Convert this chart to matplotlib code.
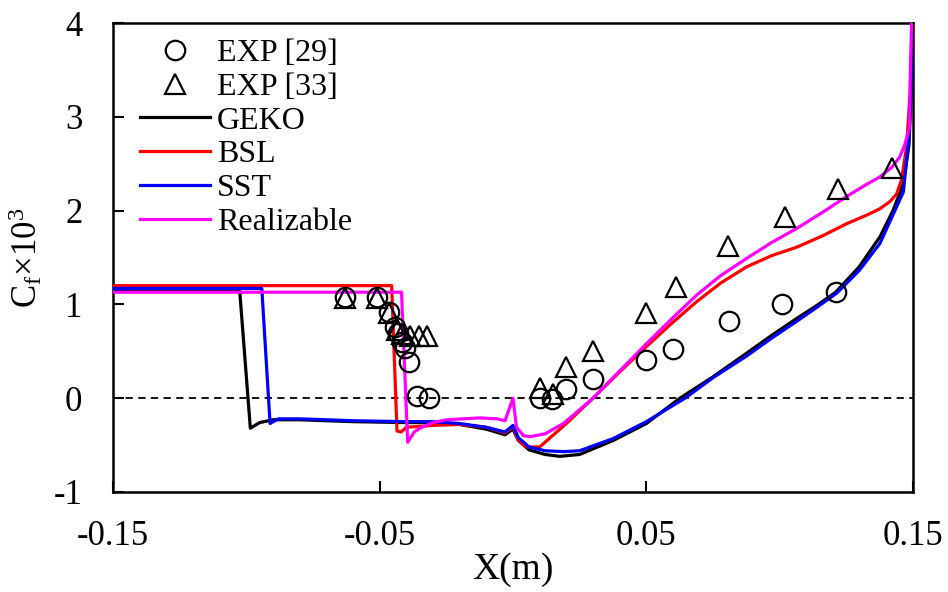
import matplotlib
matplotlib.use("Agg")
import matplotlib.pyplot as plt

plt.rcParams['font.family'] = ['Liberation Serif', 'DejaVu Serif']
plt.rcParams['mathtext.fontset'] = 'custom'
plt.rcParams['mathtext.rm'] = 'Liberation Serif'
plt.rcParams['mathtext.it'] = 'Liberation Serif:italic'
plt.rcParams['axes.unicode_minus'] = False

# experimental data
exp29_x = [-0.063, -0.0511, -0.0464, -0.0443, -0.043, -0.0418, -0.0405, -0.0389, -0.0361, -0.0315,
           0.0101, 0.0145, 0.020, 0.030, 0.050, 0.060, 0.081, 0.1008, 0.121]
exp29_y = [1.08, 1.08, 0.92, 0.76, 0.69, 0.60, 0.53, 0.39, 0.02, 0.0,
           0.0, -0.01, 0.10, 0.21, 0.41, 0.52, 0.82, 1.00, 1.13]
exp33_x = [-0.063, -0.0511, -0.0464, -0.0436, -0.0418, -0.0386, -0.0351, -0.0324,
           0.010, 0.015, 0.020, 0.030, 0.050, 0.061, 0.0807, 0.102, 0.122, 0.142]
exp33_y = [1.07, 1.07, 0.91, 0.73, 0.68, 0.66, 0.66, 0.66,
           0.11, 0.04, 0.33, 0.50, 0.91, 1.19, 1.62, 1.93, 2.23, 2.45]

# simulations
geko_x = [-0.15, -0.1025, -0.0985, -0.095, -0.09, -0.08, -0.06, -0.04, -0.03, -0.02, -0.01, -0.003,
          0.0, 0.002, 0.006, 0.012, 0.0176, 0.025, 0.0376, 0.050, 0.0626, 0.0751, 0.0876, 0.097,
          0.1064, 0.114, 0.121, 0.1298, 0.1376, 0.1425, 0.1464, 0.1485, 0.1495, 0.150]
geko_y = [1.15, 1.15, -0.32, -0.26, -0.23, -0.23, -0.25, -0.26, -0.26, -0.28, -0.33, -0.39,
          -0.33, -0.45, -0.55, -0.60, -0.62, -0.60, -0.45, -0.27, 0.0, 0.23, 0.48, 0.67,
          0.85, 0.99, 1.13, 1.40, 1.72, 2.0, 2.29, 2.7, 3.4, 4.0]

bsl_x = [-0.15, -0.0455, -0.0435, -0.042, -0.040, -0.035, -0.03, -0.02, -0.01, -0.003,
         0.0, 0.002, 0.005, 0.010, 0.020, 0.030, 0.040, 0.050, 0.060, 0.0689, 0.078, 0.0876,
         0.097, 0.1064, 0.116, 0.1251, 0.1325, 0.1376, 0.1415, 0.1439, 0.1457, 0.1476, 0.149, 0.1497]
bsl_y = [1.2, 1.2, -0.35, -0.36, -0.31, -0.30, -0.29, -0.28, -0.31, -0.37,
         -0.30, -0.45, -0.52, -0.52, -0.27, 0.0, 0.28, 0.55, 0.81, 1.03, 1.23, 1.40,
         1.52, 1.61, 1.73, 1.86, 1.95, 2.02, 2.10, 2.18, 2.33, 2.68, 3.3, 4.0]

sst_x = [-0.15, -0.0942, -0.0911, -0.088, -0.08, -0.06, -0.04, -0.03, -0.02, -0.01, -0.003,
         0.0, 0.002, 0.006, 0.012, 0.019, 0.025, 0.0376, 0.050, 0.0645, 0.0751, 0.0876, 0.097,
         0.1064, 0.114, 0.1214, 0.1298, 0.1376, 0.1464, 0.1485, 0.1495, 0.150]
sst_y = [1.17, 1.17, -0.27, -0.22, -0.22, -0.24, -0.25, -0.25, -0.27, -0.31, -0.36,
         -0.29, -0.42, -0.52, -0.56, -0.57, -0.56, -0.43, -0.25, 0.0, 0.22, 0.45, 0.64,
         0.82, 0.97, 1.12, 1.36, 1.65, 2.2, 2.8, 3.53, 4.0]

real_x = [-0.15, -0.0418, -0.0395, -0.037, -0.0349, -0.03, -0.0249, -0.0124, -0.006, -0.003,
          0.0, 0.0013, 0.004, 0.0064, 0.012, 0.0189, 0.030, 0.040, 0.050, 0.060, 0.0689, 0.078,
          0.0876, 0.097, 0.1064, 0.116, 0.1251, 0.132, 0.1376, 0.142, 0.145, 0.147, 0.1487,
          0.149, 0.1495]
real_y = [1.13, 1.13, -0.47, -0.36, -0.32, -0.26, -0.23, -0.21, -0.22, -0.24,
          0.0, -0.31, -0.40, -0.41, -0.38, -0.27, 0.0, 0.29, 0.58, 0.86, 1.10, 1.31,
          1.49, 1.66, 1.81, 1.98, 2.15, 2.27, 2.36, 2.46, 2.57, 2.71, 2.89,
          3.5, 4.0]

xticks = [-0.15, -0.05, 0.05, 0.15]
xticklabels = ['-0.15', '-0.05', '0.05', '0.15']
yticks = [-1, 0, 1, 2, 3, 4]

fig = plt.figure(figsize=(9.48, 5.92), dpi=100)
ax = fig.add_axes([113/948, 100/592, 800/948, 469/592])

ax.axhline(0, color='black', lw=1.3, ls=(0, (4, 3)), zorder=1)

ax.plot(exp29_x, exp29_y, 'o', mfc='none', mec='black', ms=14, mew=1.6, label='EXP [29]', zorder=5)
ax.plot(exp33_x, exp33_y, '^', mfc='none', mec='black', ms=14, mew=1.6, label='EXP [33]', zorder=5)
ax.plot(geko_x, geko_y, color='black', lw=2.3, label='GEKO', zorder=3)
ax.plot(bsl_x, bsl_y, color='#ff0000', lw=2.3, label='BSL', zorder=3)
ax.plot(sst_x, sst_y, color='#0000ff', lw=2.3, label='SST', zorder=3)
ax.plot(real_x, real_y, color='#ff00ff', lw=2.3, label='Realizable', zorder=4)

ax.set_xlim(-0.15, 0.15)
ax.set_ylim(-1, 4)
ax.set_xticks(xticks)
ax.set_xticklabels(xticklabels)
ax.set_yticks(yticks)
ax.tick_params(direction='in', length=8, width=1.5, labelsize=25)
ax.tick_params(axis='x', pad=20)
ax.tick_params(axis='y', pad=22)
for s in ax.spines.values():
    s.set_linewidth(1.8)

ax.set_xlabel('X(m)', fontsize=27, labelpad=0)
ax.set_ylabel(r'C$_{\mathrm{f}}$×10$^{3}$', fontsize=25)
ax.yaxis.set_label_coords(-0.085, 0.5)

ax.legend(loc='upper left', frameon=False, fontsize=23, handlelength=2.2,
          handletextpad=0.2, labelspacing=0.14, borderaxespad=0.0,
          bbox_to_anchor=(0.018, 0.994))

fig.savefig('out.png', dpi=100)
